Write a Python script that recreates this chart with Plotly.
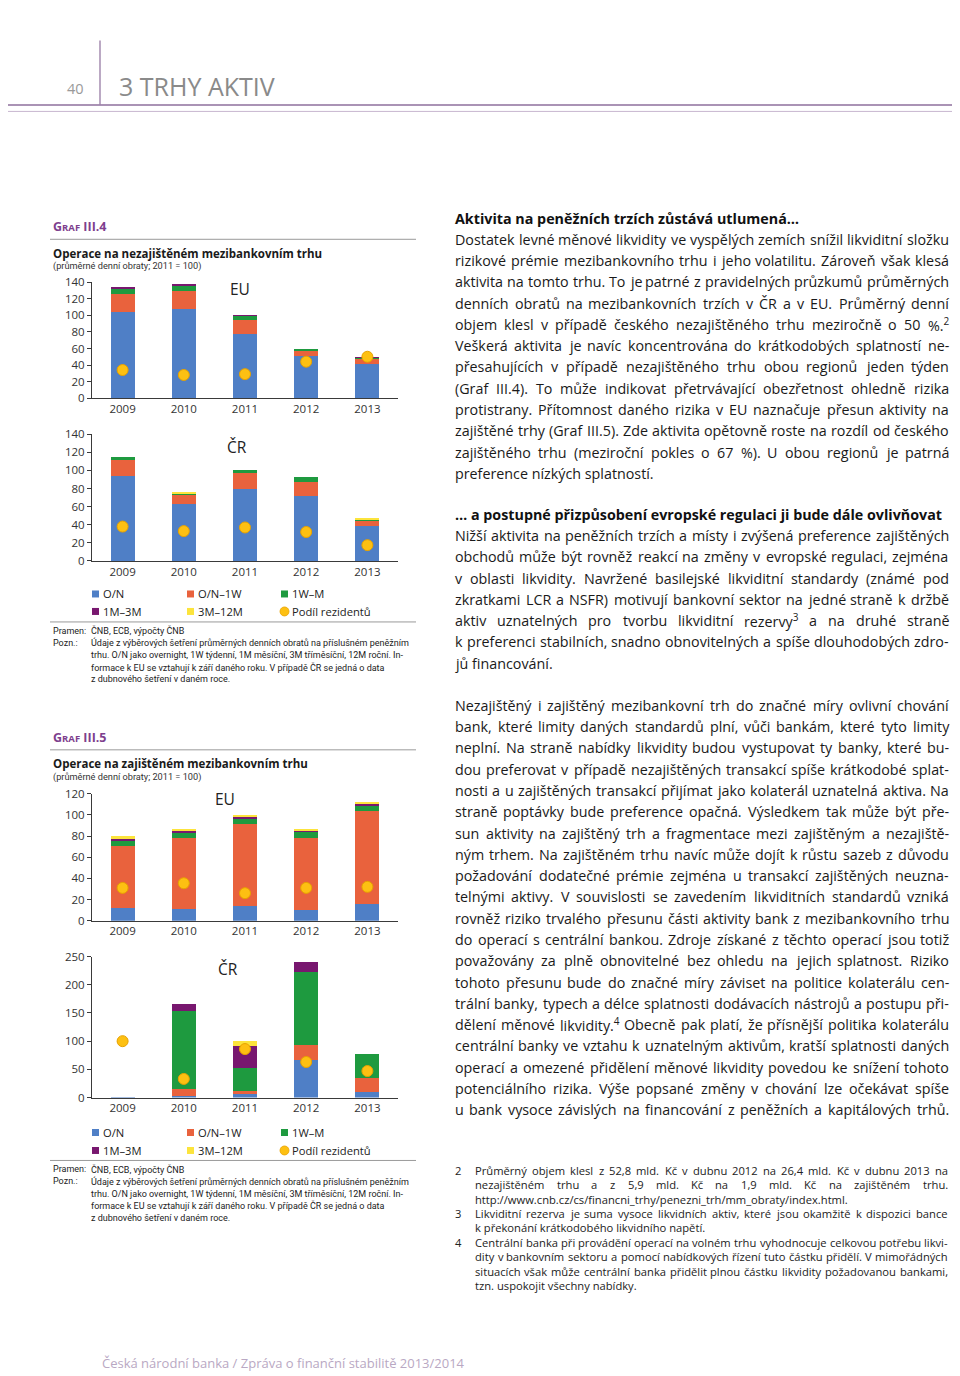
import re
import unicodedata
import plotly.graph_objects as go

# Page-to-figure mapping (measured from earlier renders of this page).
OFFX = 8
W, H = 952, 1376
VS, VO = 0.99, 15.5
def px(x):
    return (x - OFFX) / W
def py(y):
    return 1 - ((y - VO) / VS) / H

FONT = "Open Sans"
NOTE_FONT = "Roboto"

years = ["2009", "2010", "2011", "2012", "2013"]
series_names = ["O/N", "O/N–1W", "1W–M", "1M–3M", "3M–12M"]
resident_name = "Podíl rezidentů"
series_colors = ["#4F7FC6", "#E9623D", "#1E9A3F", "#78176F", "#FCE43C"]
resident_color = "#FDC012"

# Graf III.4 – nezajištěný trh, EU
eu_unsec_on = [103.5, 108, 78, 51.5, 41.5]
eu_unsec_on1w = [22.5, 21, 16, 6, 6]
eu_unsec_1wm = [6, 6.5, 5, 1.5, 0.7]
eu_unsec_1m3m = [2, 2.5, 0.3, 0, 0.5]
eu_unsec_3m12m = [0, 0, 0, 0, 0]
eu_unsec_res = [34, 28, 29, 44, 50]

# Graf III.4 – nezajištěný trh, ČR
cz_unsec_on = [94, 62.5, 79, 72, 39]
cz_unsec_on1w = [17.5, 11, 18, 15.5, 5.5]
cz_unsec_1wm = [3.5, 0.5, 3.3, 4.7, 1]
cz_unsec_1m3m = [0, 0, 0, 0, 0]
cz_unsec_3m12m = [0, 1.3, 0, 0, 1]
cz_unsec_res = [38, 33, 37, 32, 17.5]

# Graf III.5 – zajištěný trh, EU
eu_sec_on = [12, 11, 14, 10, 16]
eu_sec_on1w = [59, 67.6, 77.4, 68.6, 88]
eu_sec_1wm = [4.5, 4.4, 4.4, 5.1, 5]
eu_sec_1m3m = [2, 2.3, 2.7, 1.9, 1.8]
eu_sec_3m12m = [2.5, 1.7, 1.5, 0.9, 1.2]
eu_sec_res = [31, 35.4, 26, 31, 32]

# Graf III.5 – zajištěný trh, ČR
cz_sec_on = [1.5, 2, 6, 66, 10]
cz_sec_on1w = [0, 13, 6, 27, 25]
cz_sec_1wm = [0, 139, 41, 130, 43]
cz_sec_1m3m = [0, 12, 39, 18, 0]
cz_sec_3m12m = [0, 0, 8, 0, 0]
cz_sec_res = [100, 33, 86, 63, 47]

panels = [
    dict(series=[eu_unsec_on, eu_unsec_on1w, eu_unsec_1wm, eu_unsec_1m3m, eu_unsec_3m12m],
         res=eu_unsec_res, ydom=(282, 398), rng=[0, 140], dtick=20, label="EU", lab=(240, 289)),
    dict(series=[cz_unsec_on, cz_unsec_on1w, cz_unsec_1wm, cz_unsec_1m3m, cz_unsec_3m12m],
         res=cz_unsec_res, ydom=(434, 561), rng=[0, 140], dtick=20, label="ČR", lab=(237, 447)),
    dict(series=[eu_sec_on, eu_sec_on1w, eu_sec_1wm, eu_sec_1m3m, eu_sec_3m12m],
         res=eu_sec_res, ydom=(794, 921), rng=[0, 120], dtick=20, label="EU", lab=(225, 799)),
    dict(series=[cz_sec_on, cz_sec_on1w, cz_sec_1wm, cz_sec_1m3m, cz_sec_3m12m],
         res=cz_sec_res, ydom=(957, 1098), rng=[0, 250], dtick=50, label="ČR", lab=(228, 969)),
]

fig = go.Figure()
layout = dict()
annotations = []
shapes = []

AX = "#3a3a3a"
TICK = dict(family=FONT, size=11.5, color="#333333")

for i, p in enumerate(panels):
    n = "" if i == 0 else str(i + 1)
    xa, ya = "x" + n, "y" + n
    for vals, name, col in zip(p["series"], series_names, series_colors):
        fig.add_trace(go.Bar(x=years, y=vals, name=name, marker=dict(color=col, line=dict(width=0)),
                             xaxis=xa, yaxis=ya, showlegend=False, hoverinfo="skip"))
    fig.add_trace(go.Scatter(x=years, y=p["res"], name=resident_name, mode="markers",
                             marker=dict(color=resident_color, size=11, line=dict(color="#E8A200", width=1)),
                             xaxis=xa, yaxis=ya, showlegend=False, hoverinfo="skip"))
    y0, y1 = p["ydom"]
    layout["xaxis" + n] = dict(domain=[px(92), px(398)], anchor=ya, type="category", range=[-0.5, 4.5],
                               showline=True, linecolor=AX, linewidth=1, ticks="", showgrid=False,
                               zeroline=False, tickfont=TICK, fixedrange=True)
    layout["yaxis" + n] = dict(domain=[py(y1), py(y0)], anchor=xa, range=p["rng"], dtick=p["dtick"],
                               showline=True, linecolor=AX, linewidth=1, ticks="outside", ticklen=4,
                               tickcolor=AX, showgrid=False, zeroline=False, tickfont=TICK, fixedrange=True)
    annotations.append(dict(x=px(p["lab"][0]), y=py(p["lab"][1]), xref="paper", yref="paper",
                            text=p["label"], showarrow=False, xanchor="center", yanchor="middle",
                            font=dict(family=FONT, size=15.5, color="#222")))

def text(x, y, s, size, color="#1a1a1a", family=FONT, anchor="left", bold=False):
    if bold:
        s = "<b>" + s + "</b>"
    annotations.append(dict(x=px(x), y=py(y), xref="paper", yref="paper", text=s, showarrow=False,
                            xanchor=anchor, yanchor="middle", align=anchor,
                            font=dict(family=family, size=size, color=color)))

def hline(x0, x1, y, color="#9a9a9a", width=1):
    shapes.append(dict(type="line", xref="paper", yref="paper", x0=px(x0), x1=px(x1), y0=py(y), y1=py(y),
                       line=dict(color=color, width=width)))

# ---- approximate Open Sans advance widths (units per 2048 em) for justified text ----
OS_W = {" ": 532, ".": 545, ",": 500, "(": 582, ")": 582, "-": 659, "%": 1686, "/": 752, ":": 545,
        "_": 918, "0": 1171, "1": 1171, "2": 1171, "3": 1171, "4": 1171, "5": 1171, "6": 1171,
        "7": 1171, "8": 1171, "9": 1171,
        "A": 1296, "B": 1327, "C": 1292, "D": 1493, "E": 1139, "F": 1057, "G": 1491, "H": 1511,
        "I": 571, "J": 547, "K": 1257, "L": 1073, "M": 1849, "N": 1544, "O": 1595, "P": 1233,
        "Q": 1595, "R": 1266, "S": 1124, "T": 1139, "U": 1491, "V": 1241, "W": 1905, "X": 1186,
        "Y": 1155, "Z": 1141,
        "a": 1139, "b": 1255, "c": 975, "d": 1255, "e": 1149, "f": 694, "g": 1122, "h": 1257,
        "i": 518, "j": 518, "k": 1075, "l": 518, "m": 1905, "n": 1257, "o": 1237, "p": 1255,
        "q": 1255, "r": 836, "s": 977, "t": 723, "u": 1257, "v": 1026, "w": 1593, "x": 1073,
        "y": 1028, "z": 977}

def char_w(c):
    if c in OS_W:
        return OS_W[c]
    return OS_W.get(unicodedata.normalize("NFD", c)[0], 1139)

def word_w(word, size):
    total = 0.0
    for part in re.split(r"(<sup>.*?</sup>)", word):
        if part.startswith("<sup>"):
            total += 0.7 * sum(char_w(c) for c in part[5:-6])
        else:
            total += sum(char_w(c) for c in part)
    return total / 2048 * size

def line(x0, x1, y, s, size, color="#1a1a1a", justify=True):
    words = s.split(" ")
    if not justify or len(words) < 2:
        text(x0, y, s, size, color)
        return
    widths = [word_w(w, size) for w in words]
    gap = (x1 - x0 - sum(widths)) / (len(words) - 1)
    if gap < 0.55 * OS_W[" "] / 2048 * size:
        text(x0, y, s, size, color)
        return
    x = x0
    for w, wd in zip(words, widths):
        text(x, y, w, size, color)
        x += wd + gap

# ---- page header ----
shapes.append(dict(type="line", xref="paper", yref="paper", x0=px(100), x1=px(100), y0=py(40), y1=py(104),
                   line=dict(color="#8e6f9c", width=1.2)))
hline(OFFX, 960, 104.5, "#8e6f9c", 1.5)
hline(OFFX, 960, 111, "#c7b6cf", 1)
text(75, 88, "40", 14.5, "#9a9a9a", anchor="center")
text(117, 86, "3 TRHY AKTIV", 25, "#8a8a8a")

# ---- chart headers ----
PURPLE = "#7E3F8E"
def chart_header(y_graf, y_line, y_title, y_sub, num, title):
    text(51, y_graf, "G<span style='font-size:9.5px'>RAF</span> III." + num, 12.5, PURPLE, bold=True)
    hline(50, 416, y_line, "#9a9a9a", 1)
    text(51, y_title, title, 11.5, "#1a1a1a", bold=True)
    text(51, y_sub, "(průměrné denní obraty; 2011 = 100)", 9.2, "#333", family=NOTE_FONT)

chart_header(226.5, 239, 253, 266, "4", "Operace na nezajištěném mezibankovním trhu")
chart_header(737.5, 750, 764, 777, "5", "Operace na zajištěném mezibankovním trhu")

# ---- manual legends ----
def legend(y_row1, y_row2):
    cols = [95.5, 190.5, 284.5]
    items = [(cols[0], y_row1, 0), (cols[1], y_row1, 1), (cols[2], y_row1, 2),
             (cols[0], y_row2, 3), (cols[1], y_row2, 4)]
    for cx, cy, k in items:
        shapes.append(dict(type="rect", xref="paper", yref="paper", x0=px(cx - 3.5), x1=px(cx + 3.5),
                           y0=py(cy + 3.5), y1=py(cy - 3.5), fillcolor=series_colors[k], line=dict(width=0)))
        text(cx + 5, cy, series_names[k], 11.2, "#222")
    cx, cy = cols[2], y_row2
    shapes.append(dict(type="circle", xref="paper", yref="paper", x0=px(cx - 4.5), x1=px(cx + 4.5),
                       y0=py(cy + 4.5), y1=py(cy - 4.5), fillcolor=resident_color, line=dict(color="#E8A200", width=0.8)))
    text(cx + 5.5, cy, resident_name, 11.2, "#222")

legend(594, 611.5)
legend(1133, 1151)

# ---- sources/notes ----
note_lines = [
    "Údaje z výběrových šetření průměrných denních obratů na příslušném peněžním",
    "trhu. O/N jako overnight, 1W týdenní, 1M měsíční, 3M tříměsíční, 12M roční. In-",
    "formace k EU se vztahují k září daného roku. V případě ČR se jedná o data",
    "z dubnového šetření v daném roce.",
]
def notes(y_line, y_pramen):
    hline(50, 416, y_line, "#9a9a9a", 1)
    text(51, y_pramen, "Pramen:", 9, "#222", family=NOTE_FONT)
    text(88.5, y_pramen, "ČNB, ECB, výpočty ČNB", 9, "#222", family=NOTE_FONT)
    text(51, y_pramen + 12, "Pozn.:", 9, "#222", family=NOTE_FONT)
    for j, s in enumerate(note_lines):
        text(88.5, y_pramen + 12 + 12.2 * j, s, 9, "#222", family=NOTE_FONT)

notes(622, 631)
notes(1161, 1170)

# ---- right column text ----
BODY = 14.3
LH = 21.3
XL, XRT = 453, 947
block1 = [
    "Dostatek levné měnové likvidity ve vyspělých zemích snížil likviditní složku",
    "rizikové prémie mezibankovního trhu i jeho volatilitu. Zároveň však klesá",
    "aktivita na tomto trhu. To je patrné z pravidelných průzkumů průměrných",
    "denních obratů na mezibankovních trzích v ČR a v EU. Průměrný denní",
    "objem klesl v případě českého nezajištěného trhu meziročně o 50 %.<sup>2</sup>",
    "Veškerá aktivita je navíc koncentrována do krátkodobých splatností ne-",
    "přesahujících v případě nezajištěného trhu obou regionů jeden týden",
    "(Graf III.4). To může indikovat přetrvávající obezřetnost ohledně rizika",
    "protistrany. Přítomnost daného rizika v EU naznačuje přesun aktivity na",
    "zajištěné trhy (Graf III.5). Zde aktivita opětovně roste na rozdíl od českého",
    "zajištěného trhu (meziroční pokles o 67 %). U obou regionů je patrná",
    "preference nízkých splatností.",
]
block2 = [
    "Nižší aktivita na peněžních trzích a místy i zvýšená preference zajištěných",
    "obchodů může být rovněž reakcí na změny v evropské regulaci, zejména",
    "v oblasti likvidity. Navržené basilejské likviditní standardy (známé pod",
    "zkratkami LCR a NSFR) motivují bankovní sektor na jedné straně k držbě",
    "aktiv uznatelných pro tvorbu likviditní rezervy<sup>3</sup> a na druhé straně",
    "k preferenci stabilních, snadno obnovitelných a spíše dlouhodobých zdro-",
    "jů financování.",
]
block3 = [
    "Nezajištěný i zajištěný mezibankovní trh do značné míry ovlivní chování",
    "bank, které limity daných standardů plní, vůči bankám, které tyto limity",
    "neplní. Na straně nabídky likvidity budou vystupovat ty banky, které bu-",
    "dou preferovat v případě nezajištěných transakcí spíše krátkodobé splat-",
    "nosti a u zajištěných transakcí přijímat jako kolaterál uznatelná aktiva. Na",
    "straně poptávky bude preference opačná. Výsledkem tak může být pře-",
    "sun aktivity na zajištěný trh a fragmentace mezi zajištěným a nezajiště-",
    "ným trhem. Na zajištěném trhu navíc může dojít k růstu sazeb z důvodu",
    "požadování dodatečné prémie zejména u transakcí zajištěných neuzna-",
    "telnými aktivy. V souvislosti se zavedením likviditních standardů vzniká",
    "rovněž riziko trvalého přesunu části aktivity bank z mezibankovního trhu",
    "do operací s centrální bankou. Zdroje získané z těchto operací jsou totiž",
    "považovány za plně obnovitelné bez ohledu na jejich splatnost. Riziko",
    "tohoto přesunu bude do značné míry záviset na politice kolaterálu cen-",
    "trální banky, typech a délce splatnosti dodávacích nástrojů a postupu při-",
    "dělení měnové likvidity.<sup>4</sup> Obecně pak platí, že přísnější politika kolaterálu",
    "centrální banky ve vztahu k uznatelným aktivům, kratší splatnosti daných",
    "operací a omezené přidělení měnové likvidity povedou ke snížení tohoto",
    "potenciálního rizika. Výše popsané změny v chování lze očekávat spíše",
    "u bank vysoce závislých na financování z peněžních a kapitálových trhů.",
]

text(XL, 218, "Aktivita na peněžních trzích zůstává utlumená…", BODY, "#111", bold=True)
for j, s in enumerate(block1):
    line(XL, XRT, 239 + LH * j, s, BODY, justify=(j < len(block1) - 1))
text(XL, 514.5, "… a postupné přizpůsobení evropské regulaci ji bude dále ovlivňovat", BODY, "#111", bold=True)
for j, s in enumerate(block2):
    line(XL, XRT, 535.5 + LH * j, s, BODY, justify=(j < len(block2) - 1))
for j, s in enumerate(block3):
    line(XL, XRT, 705.5 + LH * j, s, BODY, justify=True)

# ---- footnotes ----
FN = 11.2
fn_lines = [
    ("2", "Průměrný objem klesl z 52,8 mld. Kč v dubnu 2012 na 26,4 mld. Kč v dubnu 2013 na", True),
    ("", "nezajištěném trhu a z 5,9 mld. Kč na 1,9 mld. Kč na zajištěném trhu.", True),
    ("", "http://www.cnb.cz/cs/financni_trhy/penezni_trh/mm_obraty/index.html.", False),
    ("3", "Likviditní rezerva je suma vysoce likvidních aktiv, které jsou okamžitě k dispozici bance", True),
    ("", "k překonání krátkodobého likvidního napětí.", False),
    ("4", "Centrální banka při provádění operací na volném trhu vyhodnocuje celkovou potřebu likvi-", True),
    ("", "dity v bankovním sektoru a pomocí nabídkových řízení tuto částku přidělí. V mimořádných", True),
    ("", "situacích však může centrální banka přidělit plnou částku likvidity požadovanou bankami,", True),
    ("", "tzn. uspokojit všechny nabídky.", False),
]
for j, (num, s, just) in enumerate(fn_lines):
    yy = 1171 + 14.4 * j
    if num:
        text(453, yy, num, FN, "#222")
    line(473, 946, yy, s, FN, "#222", justify=just)

# ---- footer ----
text(100, 1364, "Česká národní banka / Zpráva o finanční stabilitě 2013/2014", 13, "#B9A8C3")

fig.update_layout(
    width=W, height=H, margin=dict(l=0, r=0, t=0, b=0),
    paper_bgcolor="white", plot_bgcolor="white",
    barmode="stack", bargap=0.61, showlegend=False,
    font=dict(family=FONT, color="#222"),
    annotations=annotations, shapes=shapes,
    **layout,
)

fig.write_html("out.html")
